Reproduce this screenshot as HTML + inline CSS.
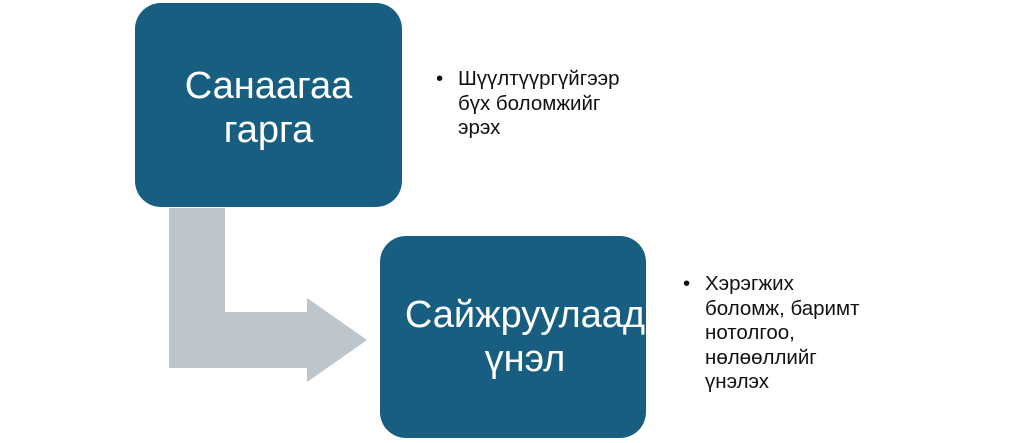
<html><head><style>
body{margin:0;width:1024px;height:443px;background:#fff;position:relative;overflow:hidden;font-family:"Liberation Sans",sans-serif}
.box{position:absolute;background:#175e80;border-radius:26px;color:#fff;font-size:38px;text-align:center;display:flex;align-items:center;justify-content:center;line-height:44px}
.t{position:absolute;font-size:20.5px;line-height:24.5px;color:#111}
.t span{position:absolute;left:-22px}
</style></head><body>
<svg width="1024" height="443" style="position:absolute;left:0;top:0">
<polygon points="169,208 225,208 225,312 307,312 307,298 367,340 307,382 307,368 169,368" fill="#bcc4cc"/>
</svg>
<div class="box" style="left:135px;top:3px;width:267px;height:204px;padding-top:6px;box-sizing:border-box">Санаагаа<br>гарга</div>
<div class="box" style="left:380px;top:236px;width:266px;height:202px;padding-left:24px;box-sizing:border-box">Сайжруулаад<br>үнэл</div>
<div class="t" style="left:458px;top:67px"><span>•</span>Шүүлтүүргүйгээр<br>бүх боломжийг<br>эрэх</div>
<div class="t" style="left:705px;top:272px"><span>•</span>Хэрэгжих<br>боломж, баримт<br>нотолгоо,<br>нөлөөллийг<br>үнэлэх</div>
</body></html>
